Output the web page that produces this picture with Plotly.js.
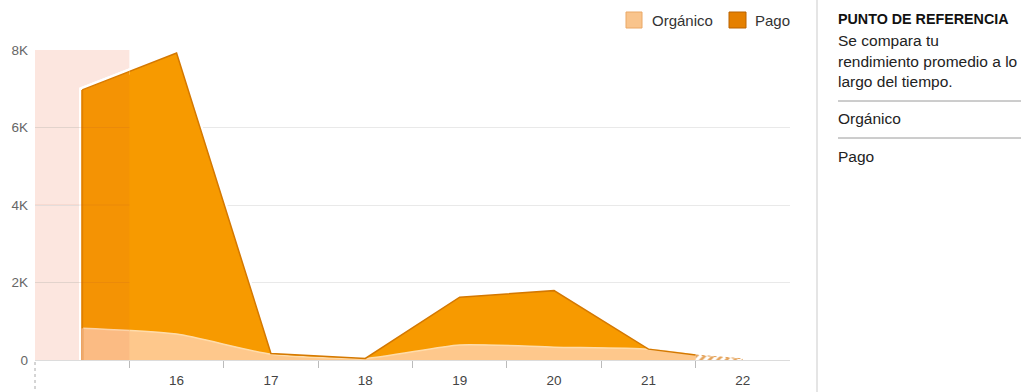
<!DOCTYPE html>
<html>
<head>
<meta charset="utf-8">
<script src="https://cdn.plot.ly/plotly-3.0.1.min.js"></script>
<style>
  html, body { margin: 0; padding: 0; background: #fff; }
  #chart { width: 1021px; height: 392px; }
</style>
</head>
<body>
<div id="chart"></div>
<script>
// Daily reach by source (stacked), last point is the partial current day
const days      = [15, 16, 17, 18, 19, 20, 21, 21.5];
const organico  = [820, 670, 150, 40, 390, 330, 280, 130];
const pago      = [6150, 7250, 20, 0, 1230, 1460, 0, 0];

// Projected organic reach for the rest of the period
const projDays     = [21.5, 22];
const projOrganico = [130, 30];

// Axis labels
const xTickVals  = [16, 17, 18, 19, 20, 21, 22];
const xTickText  = ['16', '17', '18', '19', '20', '21', '22'];
const yTickVals  = [0, 2000, 4000, 6000, 8000];
const yTickText  = ['0', '2K', '4K', '6K', '8K'];
const xMinorVals = [15.5, 16.5, 17.5, 18.5, 19.5, 20.5, 21.5];

// Benchmark side panel
const panelTitle = 'PUNTO DE REFERENCIA';
const panelLines = ['Se compara tu', 'rendimiento promedio a lo', 'largo del tiempo.'];
const panelItems = ['Orgánico', 'Pago'];
const legendNames = ['Orgánico', 'Pago'];

// ---- geometry helpers (pixel -> paper) ----
const W = 1021, H = 392;
const M = { l: 35, r: 231, t: 50, b: 32 };
const PW = W - M.l - M.r, PH = H - M.t - M.b;
const px = x => (x - M.l) / PW;
const py = y => (H - M.b - y) / PH;

const FONT = '"Liberation Sans", Arial, sans-serif';

// stacked totals for the white outline around the area
const totals = organico.map((v, i) => v + pago[i]);
const haloX = [days[0]].concat(days);
const haloY = [0].concat(totals);

// highlighted first period (tinted copies drawn on a clipped overlay axis)
const hiStart = 14.5, hiEnd = 15.5, xMin = 14.5, xMax = 22.5;

function areaTraces(xa, cOrg, cPago, lineOrg, linePago, group, haloW) {
  return [
    { x: haloX, y: haloY, xaxis: xa, yaxis: 'y', type: 'scatter', mode: 'lines',
      line: { color: '#ffffff', width: haloW, shape: 'linear' }, hoverinfo: 'skip', showlegend: false },
    { x: days, y: organico, xaxis: xa, yaxis: 'y', type: 'scatter', mode: 'lines',
      stackgroup: group, fillcolor: cOrg,
      line: { color: lineOrg, width: 1.5, shape: 'spline', smoothing: 0.6 },
      hoverinfo: 'skip', showlegend: false, name: legendNames[0] },
    { x: days, y: pago, xaxis: xa, yaxis: 'y', type: 'scatter', mode: 'lines',
      stackgroup: group, fillcolor: cPago,
      line: { color: linePago, width: 1.5, shape: 'linear' },
      hoverinfo: 'skip', showlegend: false, name: legendNames[1] }
  ];
}

const traces = []
  .concat(areaTraces('x', '#fec88c', '#f79a00', '#ffdcaa', '#d47800', 'main', 6))
  .concat([{
    x: projDays, y: projOrganico, xaxis: 'x', yaxis: 'y', type: 'scatter', mode: 'lines',
    fill: 'tozeroy', fillcolor: 'rgba(0,0,0,0)',
    fillpattern: { shape: '/', fgcolor: '#e5a45c', bgcolor: 'rgba(255,255,255,0)', size: 6, solidity: 0.45 },
    line: { color: '#e5a45c', width: 1, dash: 'dot' },
    hoverinfo: 'skip', showlegend: false
  }])
  .concat(areaTraces('x2', '#fbbb83', '#f49304', '#fcd3a8', '#d87a00', 'hi', 6))
  .concat([
    // darker left edge of the stacked area
    { x: [days[0], days[0]], y: [0, totals[0]], xaxis: 'x2', yaxis: 'y', type: 'scatter', mode: 'lines',
      line: { color: '#e08000', width: 2 }, hoverinfo: 'skip', showlegend: false },
    { x: [days[0], days[0]], y: [0, organico[0]], xaxis: 'x2', yaxis: 'y', type: 'scatter', mode: 'lines',
      line: { color: '#eca870', width: 2 }, hoverinfo: 'skip', showlegend: false }
  ]);

const shapes = [
  // highlighted period background
  { type: 'rect', xref: 'x', yref: 'paper', x0: hiStart, x1: hiEnd, y0: 0, y1: 1,
    fillcolor: '#fce6df', line: { width: 0 }, layer: 'below' },
  // dotted marker under the axis start
  { type: 'line', xref: 'paper', yref: 'paper', x0: 0, x1: 0, y0: py(362), y1: py(392),
    line: { color: '#aaaaaa', width: 1, dash: 'dot' } },
  // legend swatches
  { type: 'rect', xref: 'paper', yref: 'paper', x0: px(626), x1: px(642), y0: py(12), y1: py(28),
    fillcolor: '#f9c48c', line: { color: '#eaa866', width: 1 } },
  { type: 'rect', xref: 'paper', yref: 'paper', x0: px(729), x1: px(746), y0: py(12), y1: py(28),
    fillcolor: '#e58000', line: { color: '#b96300', width: 1 } },
  // side panel separators
  { type: 'line', xref: 'paper', yref: 'paper', x0: px(817), x1: px(817), y0: py(0), y1: py(392),
    line: { color: '#dddddd', width: 1.5 } },
  { type: 'line', xref: 'paper', yref: 'paper', x0: px(838), x1: px(1021), y0: py(101), y1: py(101),
    line: { color: '#9a9a9a', width: 1 } },
  { type: 'line', xref: 'paper', yref: 'paper', x0: px(838), x1: px(1021), y0: py(138), y1: py(138),
    line: { color: '#9a9a9a', width: 1 } }
].concat(
  // grid lines stay faintly visible over the highlighted period
  yTickVals.slice(1, -1).map(v => ({
    type: 'line', xref: 'x', yref: 'y', x0: hiStart, x1: hiEnd, y0: v, y1: v,
    line: { color: 'rgba(190,90,40,0.15)', width: 1 }, layer: 'above'
  }))
);

const ann = (text, x, y, size, opts) => Object.assign({
  text, xref: 'paper', yref: 'paper', x: px(x), y: py(y),
  xanchor: 'left', yanchor: 'middle', showarrow: false,
  font: { family: FONT, size, color: '#222' }
}, opts || {});

const annotations = [
  ann(legendNames[0], 650, 20, 15, { font: { family: FONT, size: 15, color: '#333' } }),
  ann(legendNames[1], 753, 20, 15, { font: { family: FONT, size: 15, color: '#333' } }),
  ann('<b>' + panelTitle + '</b>', 836, 19, 14.3, { font: { family: FONT, size: 14.3, color: '#111' } }),
  ann(panelLines[0], 836, 40, 15.5),
  ann(panelLines[1], 836, 61, 15.5),
  ann(panelLines[2], 836, 81, 15.5),
  ann(panelItems[0], 836, 118, 15.5),
  ann(panelItems[1], 836, 156, 15.5)
];

const layout = {
  width: W, height: H,
  margin: M,
  paper_bgcolor: '#ffffff', plot_bgcolor: 'rgba(0,0,0,0)',
  showlegend: false,
  font: { family: FONT },
  xaxis: {
    domain: [0, 1], range: [xMin, xMax], anchor: 'y',
    tickmode: 'array', tickvals: xTickVals, ticktext: xTickText,
    ticks: 'outside', ticklen: 8, tickcolor: 'rgba(0,0,0,0)',
    tickfont: { family: FONT, size: 13.5, color: '#444' },
    minor: { tickmode: 'array', tickvals: xMinorVals, ticks: 'outside', ticklen: 7,
             tickcolor: '#bbbbbb', tickwidth: 1, showgrid: false },
    showgrid: false, zeroline: false,
    showline: true, linecolor: '#dcdcdc', linewidth: 1,
    fixedrange: true
  },
  xaxis2: {
    domain: [0, (hiEnd - xMin) / (xMax - xMin)], range: [hiStart, hiEnd], anchor: 'y',
    visible: false, showgrid: false, zeroline: false, fixedrange: true
  },
  yaxis: {
    range: [0, 8000], anchor: 'x',
    tickmode: 'array', tickvals: yTickVals, ticktext: yTickText,
    ticks: '', ticklabelstandoff: 6,
    tickfont: { family: FONT, size: 13.5, color: '#666' },
    showgrid: true, gridcolor: '#e9e9e9', gridwidth: 1,
    zeroline: false, showline: false, fixedrange: true
  },
  shapes, annotations
};

Plotly.newPlot('chart', traces, layout, { staticPlot: true, displayModeBar: false });
</script>
</body>
</html>
